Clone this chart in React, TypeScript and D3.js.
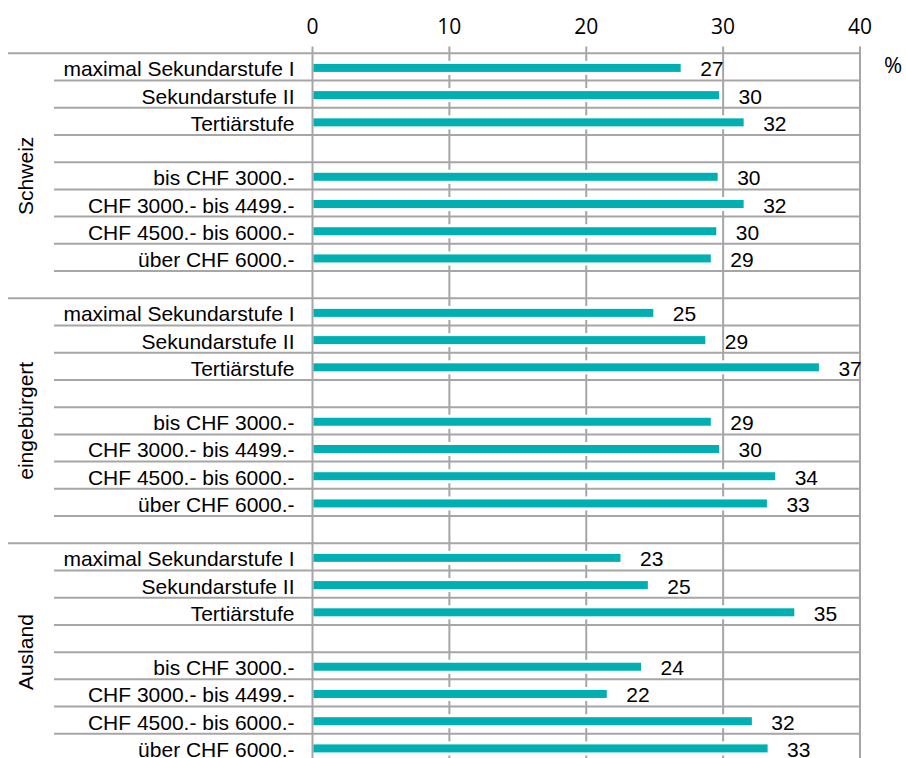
import React from "react";
import * as d3 from "d3";

const groups = ["Schweiz", "eingebürgert", "Ausland"];
const categories = [
  "maximal Sekundarstufe I",
  "Sekundarstufe II",
  "Tertiärstufe",
  "",
  "bis CHF 3000.-",
  "CHF 3000.- bis 4499.-",
  "CHF 4500.- bis 6000.-",
  "über CHF 6000.-",
];
const schweizValues = [26.9, 29.7, 31.5, null, 29.6, 31.5, 29.5, 29.1];
const eingebuergertValues = [24.9, 28.7, 37.0, null, 29.1, 29.7, 33.8, 33.2];
const auslandValues = [22.5, 24.5, 35.2, null, 24.0, 21.5, 32.1, 33.25];
const xTicks = [0, 10, 20, 30, 40];

const groupValues = [schweizValues, eingebuergertValues, auslandValues];
// rows per group: 8 categories + blank row after (last group cut off)
const rowsPerGroup = [9, 9, 8];

type Row = { group: number; label: string; value: number | null; idx: number };

const rows: Row[] = [];
groupValues.forEach((vals, g) => {
  for (let i = 0; i < rowsPerGroup[g]; i++) {
    rows.push({
      group: g,
      label: i < categories.length ? categories[i] : "",
      value: i < vals.length ? vals[i] : null,
      idx: rows.length,
    });
  }
});

const W = 906;
const H = 758;
const TOP = 53.3;
const ROW_H = 27.22;
const GRID = "#a6a6a6";
const BAR = "#00afb1";
const ARIAL = "Arial, 'Liberation Sans', sans-serif";
const AXISFONT = "'Open Sans', 'Noto Sans', sans-serif";

export default function App() {
  const x = d3.scaleLinear().domain([0, 40]).range([312.5, 860]);
  const y = d3
    .scaleBand<number>()
    .domain(rows.map((r) => r.idx))
    .range([TOP, TOP + rows.length * ROW_H])
    .paddingInner(0)
    .paddingOuter(0);
  const bottom = TOP + rows.length * ROW_H;

  const groupStarts: number[] = [];
  let acc = 0;
  rowsPerGroup.forEach((n) => {
    groupStarts.push(acc);
    acc += n;
  });

  return (
    <svg
      width={W}
      height={H}
      style={{ position: "absolute", left: 0, top: 0, background: "#fff" }}
    >
      <rect x={0} y={0} width={W} height={H} fill="#fff" />
      {/* horizontal lines */}
      {d3.range(rows.length + 1).map((i) => {
        const yy = TOP + i * ROW_H;
        const isGroup = groupStarts.includes(i);
        return (
          <line
            key={"h" + i}
            x1={isGroup ? 8 : 54}
            x2={861}
            y1={yy}
            y2={yy}
            stroke={GRID}
            strokeWidth={2}
          />
        );
      })}
      {/* vertical gridlines */}
      {xTicks.map((t) => (
        <line
          key={"v" + t}
          x1={x(t)}
          x2={x(t)}
          y1={46.5}
          y2={bottom + 1}
          stroke={GRID}
          strokeWidth={2}
        />
      ))}
      {/* axis tick labels */}
      {xTicks.map((t) => (
        <text
          key={"t" + t}
          x={x(t)}
          y={34}
          textAnchor="middle"
          fontFamily={AXISFONT}
          fontSize={21}
          fill="#000"
        >
          {t}
        </text>
      ))}
      <text x={884} y={73} fontFamily={AXISFONT} fontSize={22} fill="#000">
        %
      </text>
      {/* bars */}
      {rows.map((r) => {
        if (r.value == null) return null;
        const cy = (y(r.idx) as number) + y.bandwidth() / 2 + 1;
        const x1 = x(r.value);
        return (
          <g key={"b" + r.idx}>
            <rect
              x={x(0) + 1.5}
              y={cy - 7}
              width={x1 - x(0) + 1}
              height={14}
              fill="#fff"
            />
            <rect
              x={x(0) + 1}
              y={cy - 4}
              width={x1 - x(0) - 1}
              height={8}
              fill={BAR}
            />
          </g>
        );
      })}
      {/* category labels */}
      {rows.map((r) =>
        r.label ? (
          <text
            key={"l" + r.idx}
            x={294.5}
            y={(y(r.idx) as number) + y.bandwidth() / 2 + 9.5}
            textAnchor="end"
            fontFamily={ARIAL}
            fontSize={21}
            fill="#000"
          >
            {r.label}
          </text>
        ) : null
      )}
      {/* value labels */}
      {rows.map((r) =>
        r.value != null ? (
          <text
            key={"vl" + r.idx}
            x={x(r.value) + 19.5}
            y={(y(r.idx) as number) + y.bandwidth() / 2 + 9.5}
            fontFamily={ARIAL}
            fontSize={21}
            fill="#000"
          >
            {Math.round(r.value)}
          </text>
        ) : null
      )}
      {/* group labels */}
      {groups.map((g, gi) => {
        const start = TOP + groupStarts[gi] * ROW_H;
        const end = start + rowsPerGroup[gi] * ROW_H;
        const cy = (start + end) / 2;
        return (
          <text
            key={"g" + gi}
            transform={`translate(33,${cy}) rotate(-90)`}
            textAnchor="middle"
            fontFamily={ARIAL}
            fontSize={21}
            fill="#000"
          >
            {g}
          </text>
        );
      })}
    </svg>
  );
}
